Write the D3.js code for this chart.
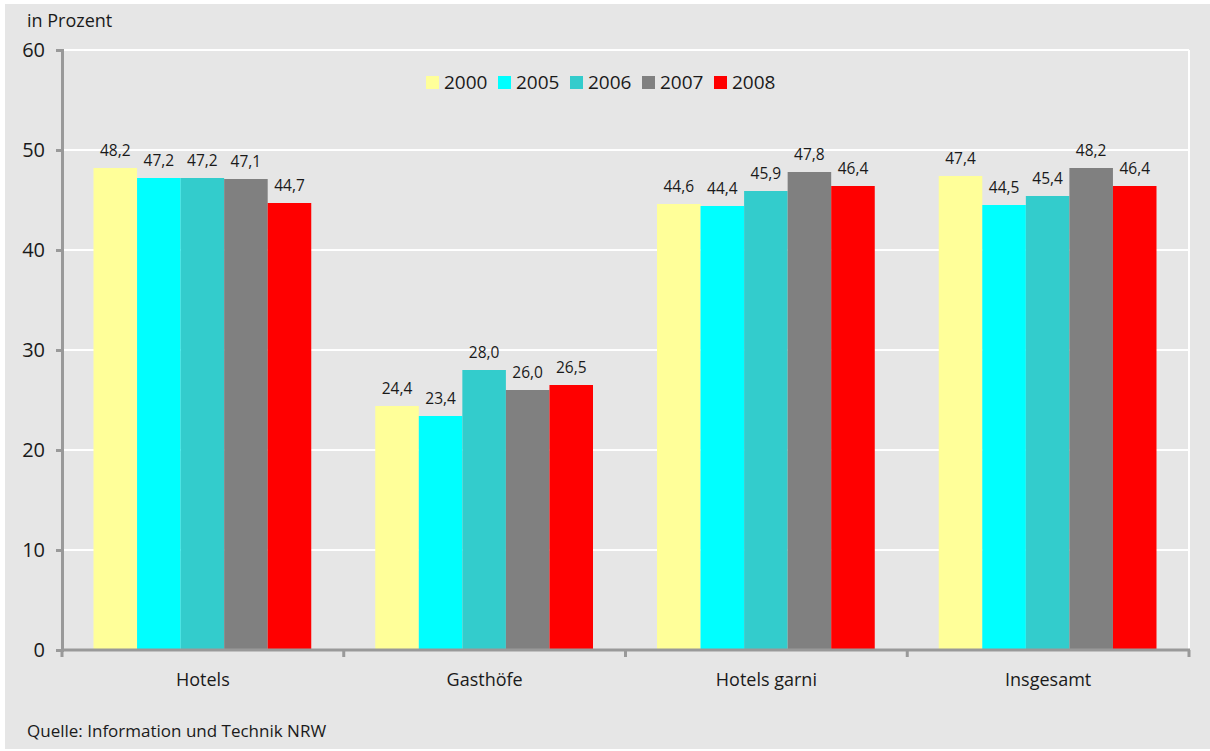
<!DOCTYPE html>
<meta charset="utf-8">
<style>
body { margin: 0; background: #fff; }
svg text { font-family: 'Open Sans', 'Noto Sans', sans-serif; fill: #1a1a1a; }
.val { font-size: 15.5px; }
.tick text { font-size: 20px; }
.cat { font-size: 18px; }
.leg { font-size: 19px; }
</style>
<body>
<div id="chart"></div>
<script src="https://cdnjs.cloudflare.com/ajax/libs/d3/7.8.5/d3.min.js"></script>
<script>
var categories = ['Hotels', 'Gasthöfe', 'Hotels garni', 'Insgesamt'];
var years = ['2000', '2005', '2006', '2007', '2008'];
var colors = ['#ffff99', '#00ffff', '#33cccc', '#808080', '#ff0000'];
var values = {
  '2000': [48.2, 24.4, 44.6, 47.4],
  '2005': [47.2, 23.4, 44.4, 44.5],
  '2006': [47.2, 28.0, 45.9, 45.4],
  '2007': [47.1, 26.0, 47.8, 48.2],
  '2008': [44.7, 26.5, 46.4, 46.4]
};
var yTicks = [0, 10, 20, 30, 40, 50, 60];

var W = 1210, H = 751;
var svg = d3.select('#chart').append('svg')
  .attr('width', W).attr('height', H);

svg.append('rect')
  .attr('x', 5).attr('y', 4)
  .attr('width', W - 5).attr('height', 745)
  .attr('fill', '#e6e6e6');

var mLeft = 62, mRight = 1189, mTop = 50, mBottom = 650;

var x0 = d3.scaleBand().domain(categories).range([mLeft, mRight]);
var x1 = d3.scaleBand().domain(years).range([31.5, x0.bandwidth() - 32.5]);
var y = d3.scaleLinear().domain([0, 60]).range([mBottom, mTop]);
var col = d3.scaleOrdinal().domain(years).range(colors);

// grid
svg.append('g').selectAll('line')
  .data(yTicks.filter(function(d){ return d > 0; }))
  .enter().append('line')
  .attr('x1', mLeft).attr('x2', mRight)
  .attr('y1', function(d){ return y(d); })
  .attr('y2', function(d){ return y(d); })
  .attr('stroke', '#fff').attr('stroke-width', 2);

svg.append('line')
  .attr('x1', mRight).attr('x2', mRight)
  .attr('y1', mTop).attr('y2', mBottom)
  .attr('stroke', '#fff').attr('stroke-width', 2);

// bars
var groups = svg.append('g').selectAll('g')
  .data(categories).enter().append('g')
  .attr('transform', function(d){ return 'translate(' + x0(d) + ',0)'; });

groups.each(function(cat, ci) {
  var g = d3.select(this);
  years.forEach(function(yr) {
    var v = values[yr][ci];
    g.append('rect')
      .attr('x', x1(yr))
      .attr('y', y(v))
      .attr('width', x1.bandwidth())
      .attr('height', y(0) - y(v))
      .attr('fill', col(yr));
    g.append('text')
      .attr('class', 'val')
      .attr('x', x1(yr) + x1.bandwidth() / 2)
      .attr('y', y(v) - 12)
      .attr('text-anchor', 'middle')
      .text(d3.format('.1f')(v).replace('.', ','));
  });
});

// y axis
var yAxis = svg.append('g')
  .attr('transform', 'translate(' + mLeft + ',0)')
  .call(d3.axisLeft(y).tickValues(yTicks).tickSize(6).tickPadding(11));
yAxis.select('.domain').attr('stroke', '#999').attr('stroke-width', 3);
yAxis.selectAll('.tick line').attr('stroke', '#999').attr('stroke-width', 3);

// x axis
var xAxis = svg.append('g')
  .attr('transform', 'translate(0,' + mBottom + ')');
xAxis.append('line')
  .attr('x1', mLeft).attr('x2', mRight + 1)
  .attr('stroke', '#999').attr('stroke-width', 3);
xAxis.selectAll('.xt')
  .data(categories.map(function(c){ return x0(c); }).concat([mRight]))
  .enter().append('line')
  .attr('x1', function(d){ return d; }).attr('x2', function(d){ return d; })
  .attr('y1', 0).attr('y2', 7)
  .attr('stroke', '#999').attr('stroke-width', 3);
xAxis.selectAll('.cat')
  .data(categories).enter().append('text')
  .attr('class', 'cat')
  .attr('x', function(d){ return x0(d) + x0.bandwidth() / 2; })
  .attr('y', 36)
  .attr('text-anchor', 'middle')
  .text(function(d){ return d; });

// legend
var leg = svg.append('g').selectAll('g')
  .data(years).enter().append('g')
  .attr('transform', function(d, i){ return 'translate(' + (426 + i * 72) + ',76)'; });
leg.append('rect')
  .attr('width', 13).attr('height', 13)
  .attr('fill', function(d){ return col(d); });
leg.append('text')
  .attr('class', 'leg')
  .attr('x', 18).attr('y', 13)
  .text(function(d){ return d; });

svg.append('text')
  .attr('x', 27).attr('y', 27)
  .style('font-size', '18px')
  .text('in Prozent');

svg.append('text')
  .attr('x', 27).attr('y', 737)
  .style('font-size', '17px')
  .text('Quelle: Information und Technik NRW');
</script>
</body>
